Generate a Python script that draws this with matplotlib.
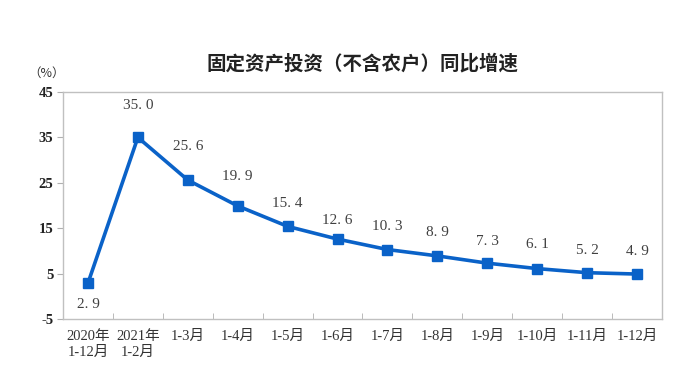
import matplotlib
matplotlib.use("Agg")
import matplotlib.pyplot as plt
import numpy as np

plt.rcParams['font.family'] = ['Liberation Serif', 'Noto Sans CJK SC']

# data
categories = ["2020年\n1-12月", "2021年\n1-2月", "1-3月", "1-4月", "1-5月", "1-6月",
              "1-7月", "1-8月", "1-9月", "1-10月", "1-11月", "1-12月"]
growth = [2.9, 35.0, 25.6, 19.9, 15.4, 12.6, 10.3, 8.9, 7.3, 6.1, 5.2, 4.9]
y_ticks = [-5, 5, 15, 25, 35, 45]

# label offsets in pixels (negative = below the point)
label_offsets = [-21, 32, 34, 29, 23, 19, 23, 23, 22, 24, 22, 23]

fig = plt.figure(figsize=(6.93, 3.82), dpi=100)
ax = fig.add_axes([63/693, 1 - 319/382, 599/693, 227/382])

x = np.arange(len(growth))
ax.plot(x, growth, color="#0a62c8", linewidth=2.6, marker="s", markersize=7.5,
        markerfacecolor="#0a62c8", markeredgecolor="#0a62c8")

for xi, v, off in zip(x, growth, label_offsets):
    ax.annotate(f"{v:.1f}".replace(".", ". "), (xi, v),
                xytext=(0, off * 0.72), textcoords="offset points",
                ha="center", va="center", fontsize=11, color="#404040")

ax.set_xlim(-0.5, len(growth) - 0.5)
ax.set_ylim(-5, 45)
ax.set_yticks(y_ticks)
ax.set_yticklabels([str(t) for t in y_ticks], fontsize=10.5, fontweight="bold", color="#222222")
ax.tick_params(axis="y", direction="out", length=4, color="#b0b0b0", pad=3)

ax.set_xticks(x)
ax.set_xticklabels(categories, fontsize=10.5, color="#333333", linespacing=1.25, va="top")
ax.tick_params(axis="x", which="major", length=0, pad=8)
ax.set_xticks(np.arange(0.5, len(growth) - 0.5, 1), minor=True)
ax.tick_params(axis="x", which="minor", direction="in", length=4, color="#b0b0b0")

for s in ax.spines.values():
    s.set_color("#c0c0c0")
    s.set_linewidth(1.0)

fig.text(47/693, 1 - 73/382, "（%）", ha="center", va="center", fontsize=9,
         family="Noto Sans CJK SC", color="#333333")
fig.text(363/693, 1 - 64/382, "固定资产投资（不含农户）同比增速", ha="center", va="center",
         fontsize=14, fontweight="bold", family="Noto Sans CJK SC", color="#222222")

fig.savefig("out.png", dpi=100)
